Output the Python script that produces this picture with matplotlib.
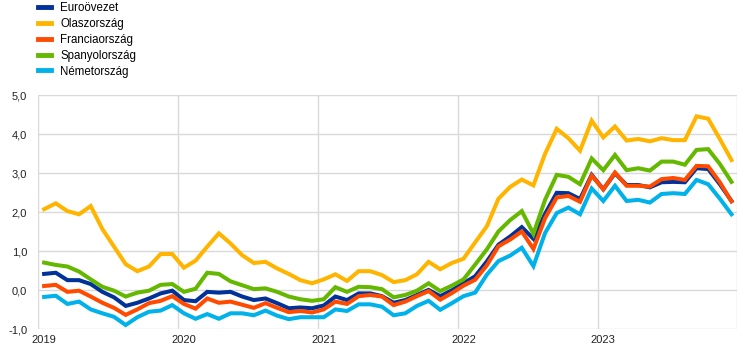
import matplotlib
matplotlib.use('Agg')
import matplotlib.pyplot as plt

# havi adatok 2019-01 .. 2023-12
years = ['2019', '2020', '2021', '2022', '2023']

euro = [0.42, 0.45, 0.26, 0.26, 0.16, -0.04, -0.18, -0.40, -0.32, -0.21, -0.08, -0.01,
        -0.25, -0.28, -0.04, -0.06, -0.04, -0.16, -0.25, -0.21, -0.33, -0.46, -0.44, -0.46,
        -0.39, -0.16, -0.25, -0.08, -0.08, -0.15, -0.32, -0.25, -0.12, 0.01, -0.15, 0.00,
        0.18, 0.36, 0.74, 1.17, 1.38, 1.62, 1.32, 1.96, 2.50, 2.49, 2.34, 2.96,
        2.59, 3.00, 2.70, 2.70, 2.64, 2.77, 2.78, 2.77, 3.13, 3.11, 2.72, 2.29]

italy = [2.08, 2.23, 2.03, 1.95, 2.16, 1.57, 1.12, 0.67, 0.49, 0.61, 0.93, 0.93,
         0.58, 0.76, 1.12, 1.46, 1.20, 0.90, 0.70, 0.73, 0.56, 0.42, 0.26, 0.18,
         0.28, 0.41, 0.24, 0.49, 0.49, 0.39, 0.21, 0.26, 0.41, 0.73, 0.54, 0.70,
         0.81, 1.23, 1.64, 2.35, 2.65, 2.84, 2.69, 3.50, 4.14, 3.90, 3.58, 4.35,
         3.92, 4.20, 3.84, 3.88, 3.82, 3.90, 3.85, 3.85, 4.46, 4.40, 3.88, 3.34]

france = [0.11, 0.14, -0.04, -0.01, -0.16, -0.32, -0.45, -0.63, -0.49, -0.33, -0.27, -0.15,
          -0.35, -0.47, -0.21, -0.32, -0.29, -0.37, -0.45, -0.33, -0.45, -0.56, -0.53, -0.57,
          -0.49, -0.29, -0.35, -0.15, -0.12, -0.16, -0.38, -0.29, -0.15, -0.02, -0.24, -0.07,
          0.12, 0.27, 0.64, 1.13, 1.30, 1.51, 1.06, 1.85, 2.38, 2.42, 2.27, 2.94,
          2.59, 3.02, 2.68, 2.68, 2.66, 2.85, 2.88, 2.83, 3.19, 3.18, 2.77, 2.28]

spain = [0.71, 0.65, 0.61, 0.48, 0.28, 0.09, -0.01, -0.16, -0.06, -0.01, 0.14, 0.16,
         -0.04, 0.04, 0.45, 0.42, 0.23, 0.13, 0.03, 0.05, -0.04, -0.16, -0.23, -0.27,
         -0.23, 0.08, -0.04, 0.09, 0.08, 0.03, -0.18, -0.12, -0.01, 0.18, -0.02, 0.12,
         0.28, 0.66, 1.05, 1.51, 1.80, 2.03, 1.45, 2.32, 2.96, 2.91, 2.72, 3.38,
         3.08, 3.47, 3.08, 3.13, 3.07, 3.30, 3.30, 3.22, 3.60, 3.62, 3.24, 2.78]

germany = [-0.17, -0.14, -0.35, -0.29, -0.49, -0.59, -0.68, -0.89, -0.69, -0.55, -0.52, -0.38,
           -0.59, -0.73, -0.61, -0.73, -0.59, -0.59, -0.64, -0.52, -0.65, -0.74, -0.69, -0.69,
           -0.69, -0.49, -0.53, -0.36, -0.36, -0.42, -0.64, -0.59, -0.40, -0.27, -0.50, -0.33,
           -0.15, -0.06, 0.40, 0.75, 0.89, 1.09, 0.62, 1.47, 1.98, 2.12, 1.95, 2.61,
           2.29, 2.68, 2.29, 2.32, 2.25, 2.47, 2.49, 2.47, 2.83, 2.72, 2.35, 1.95]

labels = ['Euroövezet', 'Olaszország', 'Franciaország', 'Spanyolország', 'Németország']
colors = ['#003299', '#FFB400', '#FF4B00', '#65B800', '#00B1EA']
series = [euro, italy, france, spain, germany]

plt.rcParams['font.family'] = ['Liberation Sans', 'DejaVu Sans']

fig = plt.figure(figsize=(7.44, 3.57), dpi=100)
ax = fig.add_axes([38.3 / 744, 1 - 329.3 / 357, 699 / 744, 234 / 357])

x = list(range(len(euro)))
for vals, lab, col in zip(series, labels, colors):
    ax.plot(x, vals, color=col, lw=2.9, label=lab, solid_joinstyle='miter')

ax.set_xlim(-0.5, len(euro) - 0.5)
ax.set_ylim(-1, 5)

# rácsvonalak
for k in range(len(years) + 1):
    ax.axvline(-0.5 + 12 * k, color='#d9d9d9', lw=1, zorder=0)
for v in range(-1, 6):
    ax.axhline(v, color='#d9d9d9', lw=1, zorder=0)

ax.set_xticks([12 * k for k in range(len(years))])
ax.set_xticklabels(years)
ax.set_yticks(range(-1, 6))
ax.set_yticklabels([f'{v:.1f}'.replace('.', ',') for v in range(-1, 6)])
ax.tick_params(length=0, labelsize=8, colors='#222222')
ax.tick_params(axis='y', pad=8)
ax.tick_params(axis='x', pad=4)
for s in ax.spines.values():
    s.set_visible(False)

leg = fig.legend(loc='upper left', bbox_to_anchor=(36 / 744, 1.0), frameon=False,
                 fontsize=8.3, handlelength=1.1, handletextpad=0.8, labelspacing=0.33,
                 borderpad=0.2, borderaxespad=0)
for line in leg.get_lines():
    line.set_linewidth(3.5)

fig.savefig('out.png', dpi=100)
